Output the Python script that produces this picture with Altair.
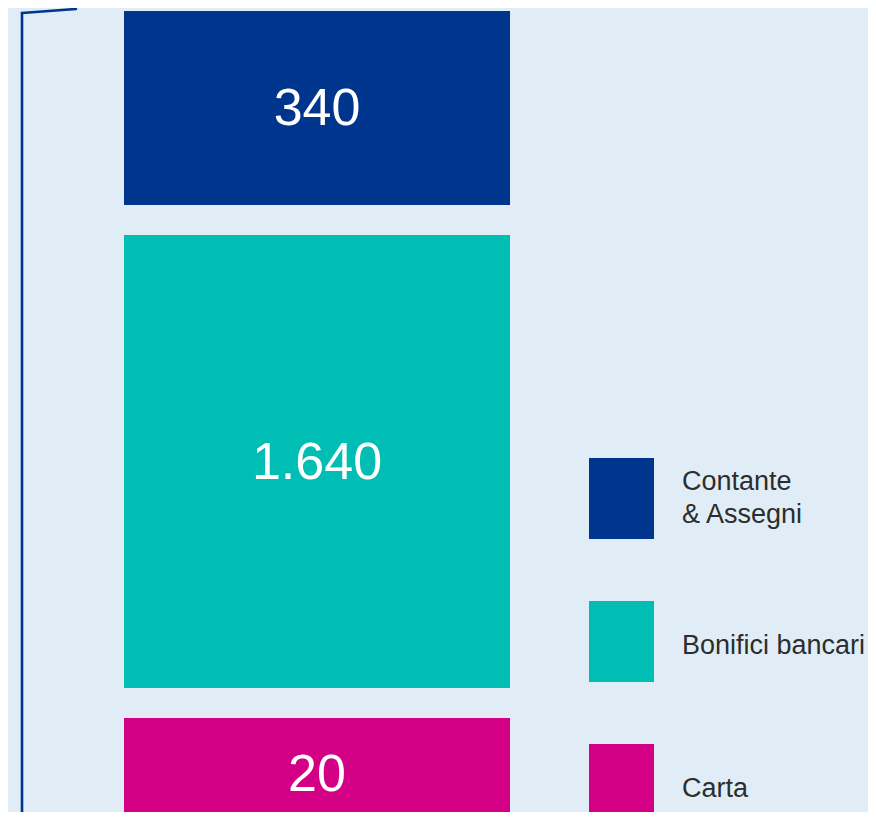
import altair as alt
import pandas as pd

categories = ["Contante\n& Assegni", "Bonifici bancari", "Carta"]
values = [340, 1640, 20]
value_labels = ["340", "1.640", "20"]
colors = ["#00358E", "#00BEB4", "#D30085"]

df = pd.DataFrame({"cat": categories, "value": values, "label": value_labels})
df["end"] = df["value"].cumsum()
df["start"] = df["end"] - df["value"]
df["mid"] = (df["start"] + df["end"]) / 2
df["multi"] = df["cat"].str.contains("\n")

# piecewise scale: each segment gets its own visual block height
ydomain = [0] + [int(v) for v in df["end"]]
yscale = alt.Scale(domain=ydomain, range=[3, 227, 710, 852], nice=False, zero=False)
cscale = alt.Scale(domain=categories, range=colors)

bars = alt.Chart(df).mark_bar(y2Offset=-30).encode(
    x=alt.value(116), x2=alt.value(502),
    y=alt.Y("start:Q", scale=yscale, axis=None),
    y2="end:Q",
    color=alt.Color("cat:N", scale=cscale, legend=None),
)

nums = alt.Chart(df).mark_text(
    color="white", font="Liberation Sans", fontSize=52, baseline="middle", align="center", dy=-14
).encode(
    x=alt.value(309),
    y=alt.Y("mid:Q", scale=yscale, axis=None),
    text="label:N",
)

lscale = alt.Scale(type="band", domain=categories, range=[450, 817], paddingInner=0.434, paddingOuter=0)

leg_sq = alt.Chart(df).mark_bar().encode(
    x=alt.value(581), x2=alt.value(646),
    y=alt.Y("cat:N", scale=lscale, axis=None, sort=categories),
    color=alt.Color("cat:N", scale=cscale, legend=None),
)

txt_props = dict(align="left", baseline="middle", font="Liberation Sans", fontSize=27,
                 color="#2d2d2d", lineBreak="\n", lineHeight=33)

leg_txt1 = alt.Chart(df).transform_filter("!datum.multi").mark_text(dy=4, **txt_props).encode(
    x=alt.value(674),
    y=alt.Y("cat:N", scale=lscale, axis=None, sort=categories),
    text="cat:N",
)
leg_txt2 = alt.Chart(df).transform_filter("datum.multi").mark_text(dy=-16, **txt_props).encode(
    x=alt.value(674),
    y=alt.Y("cat:N", scale=lscale, axis=None, sort=categories),
    text="cat:N",
)

bracket_v = alt.Chart(df.head(1)).mark_rule(color="#00358E", strokeWidth=2.6, strokeCap="round").encode(
    x=alt.value(14), y=alt.value(5), y2=alt.value(900)
)
bracket_h = alt.Chart(df.head(1)).mark_rule(color="#00358E", strokeWidth=2.6, strokeCap="round").encode(
    x=alt.value(14), x2=alt.value(68), y=alt.value(5), y2=alt.value(1)
)

chart = alt.layer(bars, nums, leg_sq, leg_txt1, leg_txt2, bracket_v, bracket_h).resolve_scale(
    y="independent"
).properties(
    width=860, height=804, padding=0, autosize=alt.AutoSizeParams(type="none"),
    background="#E1EDF6",
).configure_view(stroke=None)

chart.save("out.html", embed_options={"renderer": "svg", "actions": False})
